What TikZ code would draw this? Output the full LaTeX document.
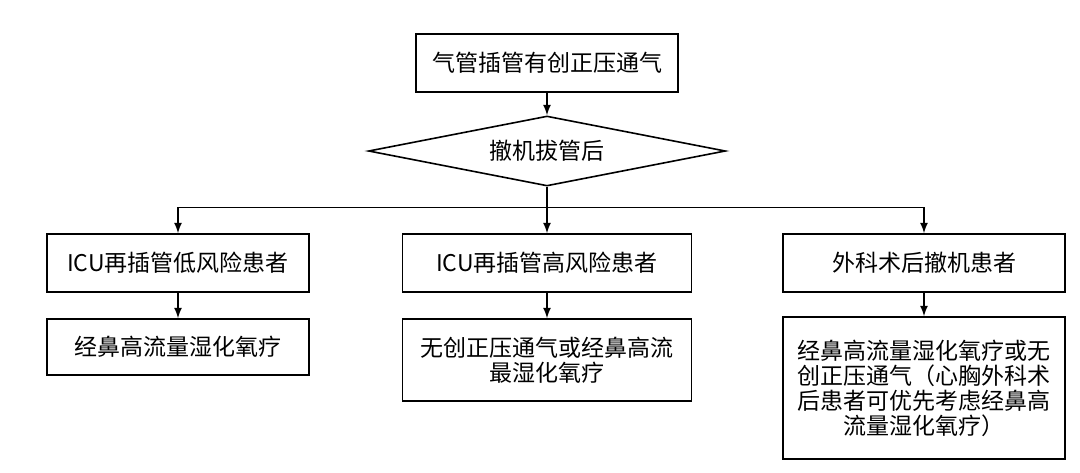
\documentclass[tikz,border=0pt]{standalone}
\usepackage{fontspec}
\newfontfamily\cjk{Noto Sans CJK SC}
\usetikzlibrary{shapes.geometric}

\tikzset{
  box/.style={draw, thick, inner sep=2pt, align=center, font=\cjk\fontsize{11.5}{12.5}\selectfont},
  choice/.style={draw, thick, diamond, inner sep=0pt, aspect=5, font=\cjk\fontsize{11.5}{12.5}\selectfont}
}

\begin{document}
\begin{tikzpicture}[x=0.5pt, y=-0.5pt, >=latex]
      \useasboundingbox (0,0) rectangle (1080,472);

      \node[box, minimum width=131pt, minimum height=29pt] (intub) at (547, 63) {气管插管有创正压通气};
      \node[choice, minimum width=178.5pt, minimum height=35pt] (weaning) at (547, 151) {撤机拔管后};
      \coordinate (split) at (547, 207.5);

      \node[box, minimum width=131pt, minimum height=29pt] (lowrisk) at (178, 263) {ICU再插管低风险患者};
      \node[box, minimum width=144.5pt, minimum height=29pt] (highrisk) at (547, 263) {ICU再插管高风险患者};
      \node[box, minimum width=141pt, minimum height=29pt] (surgery) at (924, 263) {外科术后撤机患者};

      \node[box, minimum width=131pt, minimum height=28pt] (hfnc) at (178, 347) {经鼻高流量湿化氧疗};
      \node[box, minimum width=144.5pt, minimum height=41pt] (niv) at (547, 360) {无创正压通气或经鼻高流\\最湿化氧疗};
      \node[box, minimum width=141pt, minimum height=71pt] (surgtx) at (924, 388) {经鼻高流量湿化氧疗或无\\创正压通气（心胸外科术\\后患者可优先考虑经鼻高\\流量湿化氧疗）};

      \draw[->, thick] (intub.south) -- (weaning.north);
      \draw[thick] (weaning.south) -- (split);
      \draw[->, thick] (split) -| (lowrisk.north);
      \draw[->, thick] (split) -- (highrisk.north);
      \draw[->, thick] (split) -| (surgery.north);

      \draw[->, thick] (lowrisk.south) -- (hfnc.north);
      \draw[->, thick] (highrisk.south) -- (niv.north);
      \draw[->, thick] (surgery.south) -- (surgtx.north);
    \end{tikzpicture}
\end{document}
